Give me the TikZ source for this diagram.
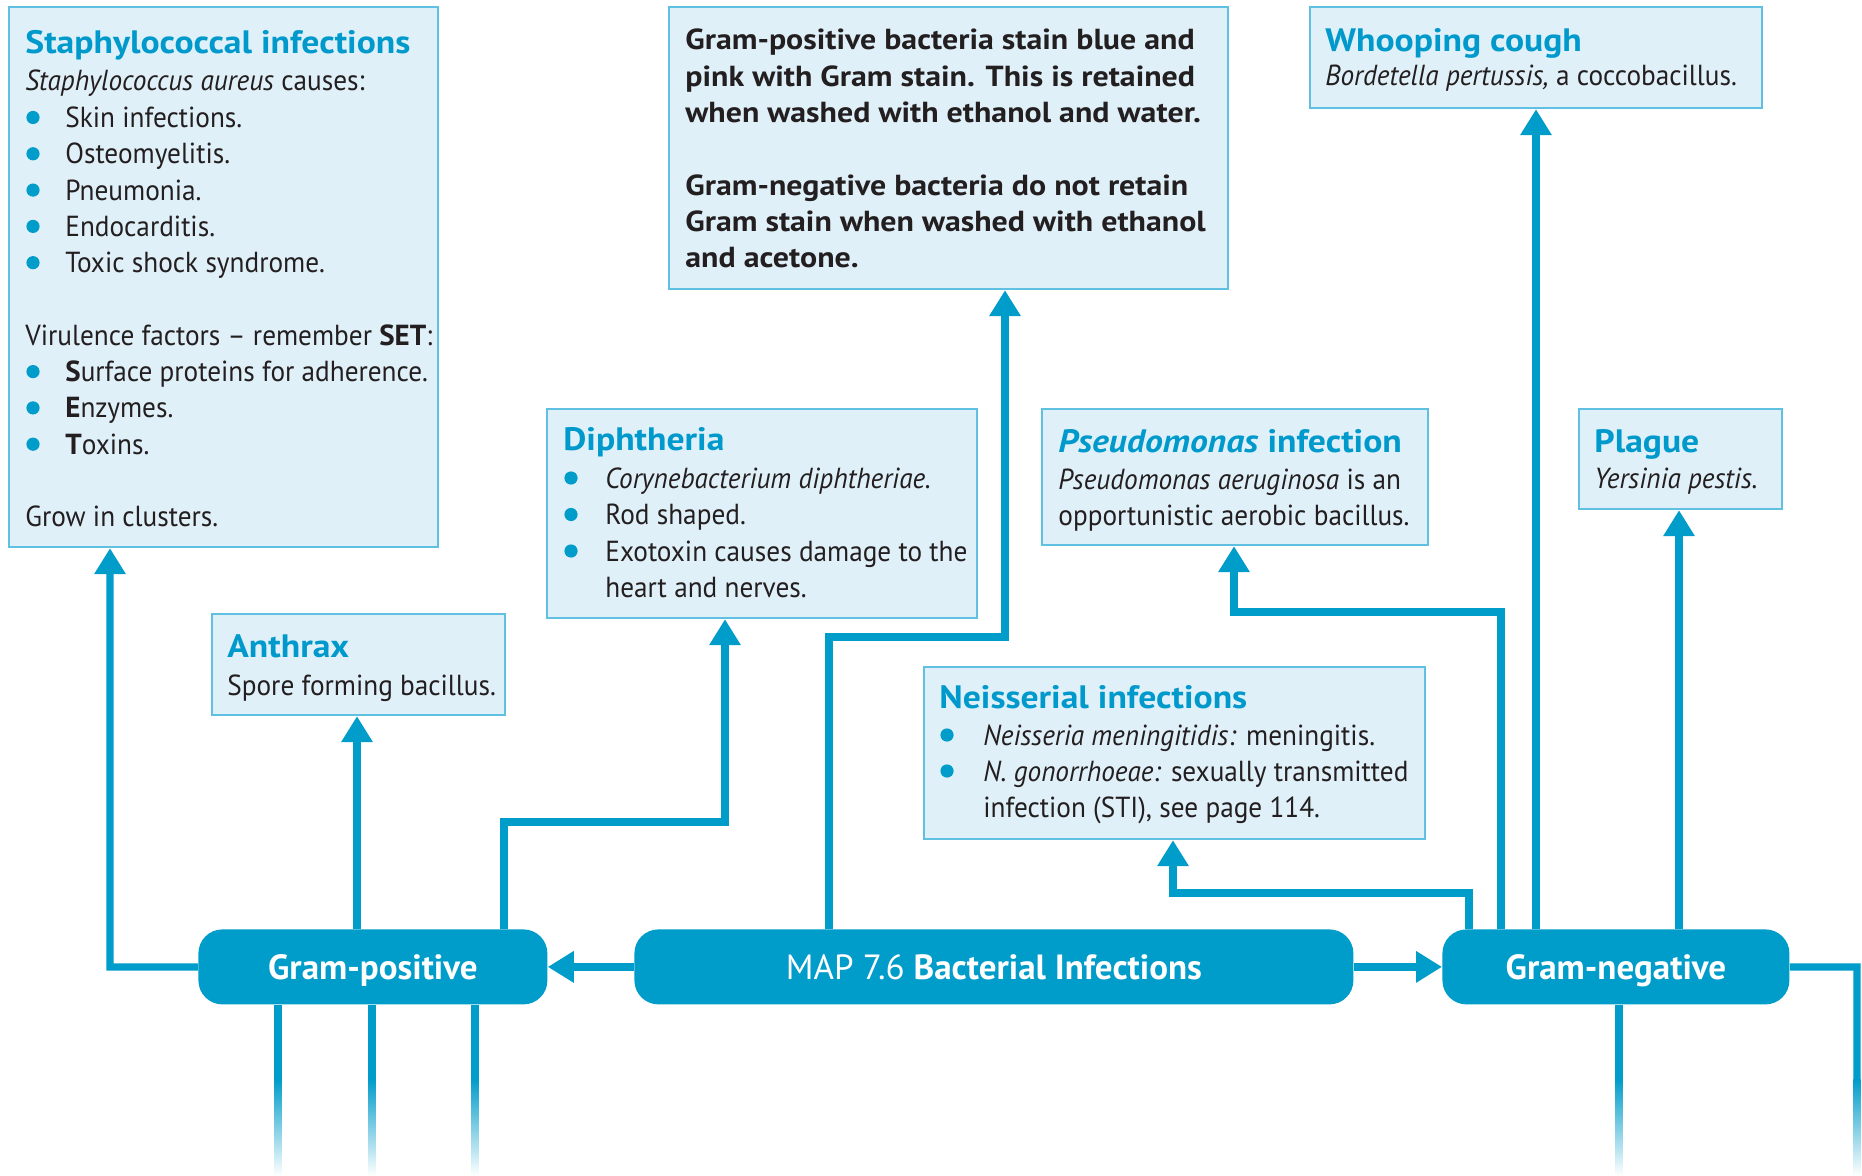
\documentclass[tikz,border=0pt]{standalone}
\usepackage{fontspec}
\setmainfont{PT Sans}[
  UprightFeatures={FakeStretch=0.94},
  ItalicFeatures={FakeStretch=0.94},
  BoldFeatures={FakeStretch=1.1},
  BoldItalicFeatures={FakeStretch=1.1}]
\newfontfamily\hubfont{PT Sans}
\newcommand\keyletter[1]{{\hubfont\bfseries #1}}
\usetikzlibrary{arrows.meta}
\definecolor{mapblue}{RGB}{0,156,202}
\definecolor{boxfill}{RGB}{224,240,248}
\definecolor{boxline}{RGB}{95,192,226}
\definecolor{headblue}{RGB}{0,153,204}
\definecolor{ink}{RGB}{35,31,32}
\newcommand\mapdot[2]{\fill[mapblue] (#1,#2) circle[radius=3.3pt];}
\begin{document}
\begin{tikzpicture}[x=0.5pt,y=-0.5pt,
  infobox/.style={draw=boxline, fill=boxfill, line width=1.1pt, anchor=north west, inner sep=0pt},
  hub/.style={fill=mapblue, draw=none, rounded corners=12pt, anchor=north west, text=white,
    minimum height=37.5pt, text height=12.5pt, text depth=0pt, inner sep=0pt,
    font=\hubfont\bfseries\fontsize{17.5}{20}\selectfont},
  head/.style={anchor=base west, inner sep=0pt, text=headblue, font=\bfseries\fontsize{16.2}{19}\selectfont},
  body/.style={anchor=base west, inner sep=0pt, text=ink, font=\fontsize{14.5}{17}\selectfont},
  bodyb/.style={anchor=base west, inner sep=0pt, text=ink, font=\bfseries\fontsize{14.5}{17}\selectfont},
  conn/.style={draw=mapblue, line width=3.6pt},
  arr/.style={conn, -{Triangle[length=13pt,width=15pt]}}
]
\useasboundingbox (0,0) rectangle (1862,1176);
\fill[white] (0,0) rectangle (1862,1176);

% ---------- information boxes ----------
\node[infobox, minimum width=214.5pt, minimum height=270pt] (staph) at (8,6) {};
\node[infobox, minimum width=279.5pt, minimum height=141pt] (gram) at (668,6) {};
\node[infobox, minimum width=226pt, minimum height=50.5pt] (whoop) at (1309,6) {};
\node[infobox, minimum width=215pt, minimum height=104.5pt] (diph) at (546,408) {};
\node[infobox, minimum width=193pt, minimum height=68pt] (pseu) at (1041,408) {};
\node[infobox, minimum width=101.5pt, minimum height=50pt] (plag) at (1578,408) {};
\node[infobox, minimum width=146.5pt, minimum height=50.5pt] (anth) at (211,613) {};
\node[infobox, minimum width=250.5pt, minimum height=86pt] (neis) at (923,666) {};

% ---------- hub boxes ----------
\node[hub, minimum width=359.5pt] (main) at (634,929) {{\mdseries MAP 7.6} Bacterial Infections};
\node[hub, minimum width=174.5pt] (gp) at (198,929) {Gram-positive};
\node[hub, minimum width=173.5pt] (gn) at (1442,929) {Gram-negative};

% ---------- Staphylococcal infections ----------
\node[head] (st-h) at (25,54) {Staphylococcal infections};
\node[body] (st-a) at (25,91) {\textit{Staphylococcus aureus} causes:};
\node[body] (st-b) at (65,127.5) {Skin infections.};
\node[body] (st-c) at (65,163.8) {Osteomyelitis.};
\node[body] (st-d) at (65,200.1) {Pneumonia.};
\node[body] (st-e) at (65,236.4) {Endocarditis.};
\node[body] (st-f) at (65,272.7) {Toxic shock syndrome.};
\node[body] (st-g) at (25,345.3) {Virulence factors -- remember \keyletter{SET}:};
\node[body] (st-i) at (65,381.6) {\keyletter{S}urface proteins for adherence.};
\node[body] (st-j) at (65,417.9) {\keyletter{E}nzymes.};
\node[body] (st-k) at (65,454.2) {\keyletter{T}oxins.};
\node[body] (st-l) at (25,526.8) {Grow in clusters.};
\foreach \yy in {127.5,163.8,200.1,236.4,272.7,381.6,417.9,454.2}
  {\mapdot{33}{\yy-10}}

% ---------- Gram stain ----------
\node[bodyb] (gs-a) at (685,50) {Gram-positive bacteria stain blue and};
\node[bodyb] (gs-b) at (685,86.3) {pink with Gram stain. This is retained};
\node[bodyb] (gs-c) at (685,122.6) {when washed with ethanol and water.};
\node[bodyb] (gs-d) at (685,195.2) {Gram-negative bacteria do not retain};
\node[bodyb] (gs-e) at (685,231.5) {Gram stain when washed with ethanol};
\node[bodyb] (gs-f) at (685,267.8) {and acetone.};

% ---------- Whooping cough ----------
\node[head] (wc-h) at (1325,52) {Whooping cough};
\node[body] (wc-a) at (1325,86) {\textit{Bordetella pertussis,} a coccobacillus.};

% ---------- Diphtheria ----------
\node[head] (di-h) at (563,451) {Diphtheria};
\node[body] (di-a) at (605,488) {\textit{Corynebacterium diphtheriae.}};
\node[body] (di-b) at (605,524.5) {Rod shaped.};
\node[body] (di-c) at (605,561) {Exotoxin causes damage to the};
\node[body] (di-d) at (605,597.5) {heart and nerves.};
\foreach \yy in {488,524.5,561} {\mapdot{571}{\yy-10}}

% ---------- Pseudomonas ----------
\node[head] (ps-h) at (1058,452) {\textit{Pseudomonas} infection};
\node[body] (ps-a) at (1058,489) {\textit{Pseudomonas aeruginosa} is an};
\node[body] (ps-b) at (1058,525) {opportunistic aerobic bacillus.};

% ---------- Plague ----------
\node[head] (pl-h) at (1594,452) {Plague};
\node[body] (pl-a) at (1594,488) {\textit{Yersinia pestis.}};

% ---------- Anthrax ----------
\node[head] (an-h) at (227,657) {Anthrax};
\node[body] (an-a) at (227,695) {Spore forming bacillus.};

% ---------- Neisserial infections ----------
\node[head] (ne-h) at (939,708) {Neisserial infections};
\node[body] (ne-a) at (983,745) {\textit{Neisseria meningitidis:} meningitis.};
\node[body] (ne-b) at (983,781) {\textit{N. gonorrhoeae:} sexually transmitted};
\node[body] (ne-c) at (983,817) {infection (STI), see page 114.};
\foreach \yy in {745,781} {\mapdot{947}{\yy-10}}

% ---------- connectors ----------
\coordinate (kStaph) at (110,967);
\coordinate (xAnth) at (357,0);
\coordinate (kD1) at (504,822);
\coordinate (kD2) at (725,822);
\coordinate (kG1) at (829,637);
\coordinate (kG2) at (1005,637);
\coordinate (kN1) at (1469,893);
\coordinate (kN2) at (1173,893);
\coordinate (kP1) at (1501,612);
\coordinate (kP2) at (1234,612);
\coordinate (xWh) at (1536,0);
\coordinate (xPl) at (1679,0);

\draw[arr] (main.west) -- (gp.east);
\draw[arr] (main.east) -- (gn.west);
\draw[arr] (gp.west) -- (kStaph) -- (kStaph |- staph.south);
\draw[arr] (xAnth |- gp.north) -- (xAnth |- anth.south);
\draw[arr] (kD1 |- gp.north) -- (kD1) -- (kD2) -- (kD2 |- diph.south);
\draw[arr] (kG1 |- main.north) -- (kG1) -- (kG2) -- (kG2 |- gram.south);
\draw[arr] (kN1 |- gn.north) -- (kN1) -- (kN2) -- (kN2 |- neis.south);
\draw[arr] (kP1 |- gn.north) -- (kP1) -- (kP2) -- (kP2 |- pseu.south);
\draw[arr] (xWh |- gn.north) -- (xWh |- whoop.south);
\draw[arr] (xPl |- gn.north) -- (xPl |- plag.south);

% ---------- branches running off the bottom edge ----------
\coordinate (f1) at (278,1080);
\coordinate (f2) at (372,1080);
\coordinate (f3) at (475,1080);
\coordinate (f4) at (1619,1080);
\coordinate (f5) at (1857,1080);
\coordinate (kR) at (1857,967);
\draw[conn] (f1 |- gp.south) -- (f1);
\draw[conn] (f2 |- gp.south) -- (f2);
\draw[conn] (f3 |- gp.south) -- (f3);
\draw[conn] (f4 |- gn.south) -- (f4);
\draw[conn] (gn.east) -- (kR) -- (f5);
\foreach \xx in {278,372,475,1619,1857}
  {\shade[top color=mapblue, bottom color=white] (\xx-3.6,1079) rectangle (\xx+3.6,1176);}
\end{tikzpicture}
\end{document}
